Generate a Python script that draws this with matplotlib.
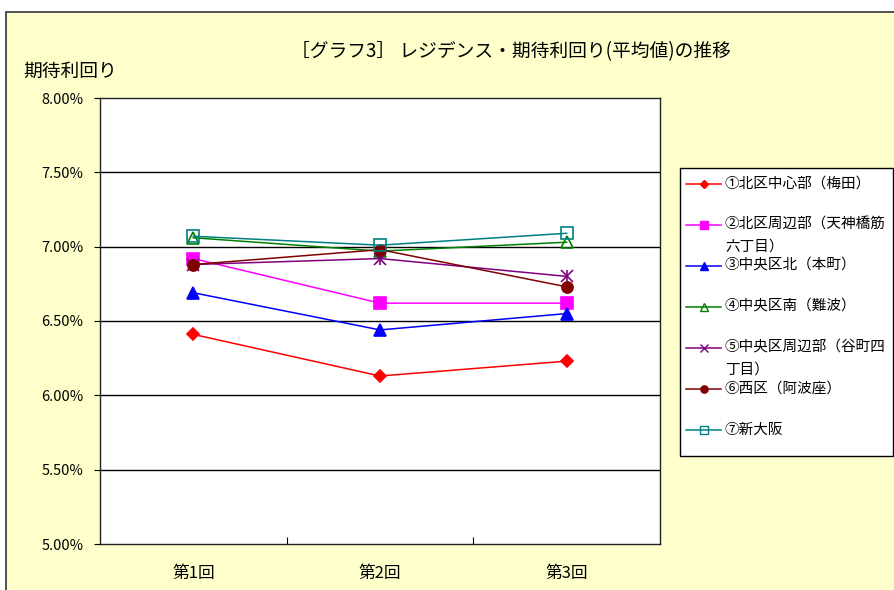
import matplotlib
matplotlib.use("Agg")
import matplotlib.pyplot as plt
from matplotlib.lines import Line2D
from matplotlib.patches import Rectangle
from matplotlib.transforms import Affine2D

plt.rcParams['font.family'] = ['Noto Sans CJK JP', 'DejaVu Sans']

categories = ['第1回', '第2回', '第3回']
series_names = [
    '①北区中心部（梅田）',
    '②北区周辺部（天神橋筋\n六丁目）',
    '③中央区北（本町）',
    '④中央区南（難波）',
    '⑤中央区周辺部（谷町四\n丁目）',
    '⑥西区（阿波座）',
    '⑦新大阪',
]
s1 = [6.41, 6.13, 6.23]
s2 = [6.92, 6.62, 6.62]
s3 = [6.69, 6.44, 6.55]
s4 = [7.06, 6.97, 7.03]
s5 = [6.88, 6.92, 6.80]
s6 = [6.88, 6.98, 6.73]
s7 = [7.07, 7.01, 7.09]
series_values = [s1, s2, s3, s4, s5, s6, s7]
yticks = [5.0, 5.5, 6.0, 6.5, 7.0, 7.5, 8.0]
ytick_labels = ['5.00%', '5.50%', '6.00%', '6.50%', '7.00%', '7.50%', '8.00%']

colors = ['#FF0000', '#FF00FF', '#0000FF', '#008000', '#800080', '#800000', '#008080']
markers = ['D', 's', '^', '^', 'x', 'o', 's']
filled = [True, True, True, False, True, True, False]
msizes = [6.5, 8, 8, 8, 8, 8, 8]

W, H = 895, 590
fig = plt.figure(figsize=(W / 100, H / 100), dpi=100)
fig.patch.set_facecolor('white')
px = Affine2D().scale(1 / W, -1 / H).translate(0, 1) + fig.transFigure

# outer chart area
fig.patches.append(Rectangle((6, 12), 1000, 700, transform=px, facecolor='#FFFFCC',
                             edgecolor='#333333', linewidth=1.2, zorder=-10))

ax = fig.add_axes([100 / W, 1 - 544 / H, 560 / W, 446 / H])
ax.set_zorder(1)
ax.set_facecolor('white')
x = list(range(len(categories)))
for i, vals in enumerate(series_values):
    mfc = colors[i] if filled[i] else 'none'
    ax.plot(x, vals, color=colors[i], marker=markers[i], markersize=msizes[i],
            markerfacecolor=mfc, markeredgecolor=colors[i], linewidth=1.1,
            markeredgewidth=1.2, zorder=3 + i, clip_on=False)
    if markers[i] == 'x':
        ax.plot(x, vals, linestyle='none', marker='|', markersize=msizes[i],
                markeredgecolor=colors[i], markeredgewidth=1.2, zorder=3 + i)

ax.set_xlim(-0.5, len(categories) - 0.5)
ax.set_ylim(5.0, 8.0)
ax.set_yticks(yticks)
ax.set_yticklabels(ytick_labels, fontsize=10.5)
for yv in yticks[1:-1]:
    ax.axhline(yv, color='black', linewidth=1.0, zorder=1)
ax.set_xticks([0.5, 1.5], minor=False)
ax.set_xticklabels([])
ax.tick_params(axis='x', direction='in', length=5, width=0.8)
ax.tick_params(axis='y', direction='out', length=4, width=0.8, pad=8)
for c, lab in zip(x, categories):
    ax.text(c, -29 / 446, lab, transform=ax.get_xaxis_transform(), ha='center', va='center', fontsize=12)
for sp in ax.spines.values():
    sp.set_color('#222222')
    sp.set_linewidth(1.0)

fig.text(511 / W, 1 - 52 / H, '［グラフ3］ レジデンス・期待利回り(平均値)の推移', ha='center', va='center', fontsize=13.5)
fig.text(23 / W, 1 - 71 / H, '期待利回り', ha='left', va='center', fontsize=13.5)

# legend box
fig.patches.append(Rectangle((680, 168), 213, 288, transform=px, facecolor='white',
                             edgecolor='black', linewidth=1.0, zorder=1))
for i, name in enumerate(series_names):
    yc = 183.5 + 41 * i
    mfc = colors[i] if filled[i] else 'none'
    fig.lines.append(Line2D([686, 721], [yc, yc], transform=px, color=colors[i], linewidth=1.1, zorder=2))
    fig.lines.append(Line2D([704], [yc], transform=px, color=colors[i], marker=markers[i],
                            markersize=msizes[i] * 0.65, markerfacecolor=mfc,
                            markeredgecolor=colors[i], markeredgewidth=1.0, zorder=3))
    for j, line in enumerate(name.split('\n')):
        fig.text(725 / W, 1 - (yc + 22 * j) / H, line, ha='left', va='center', fontsize=10.5)

fig.savefig('out.png', dpi=100)
